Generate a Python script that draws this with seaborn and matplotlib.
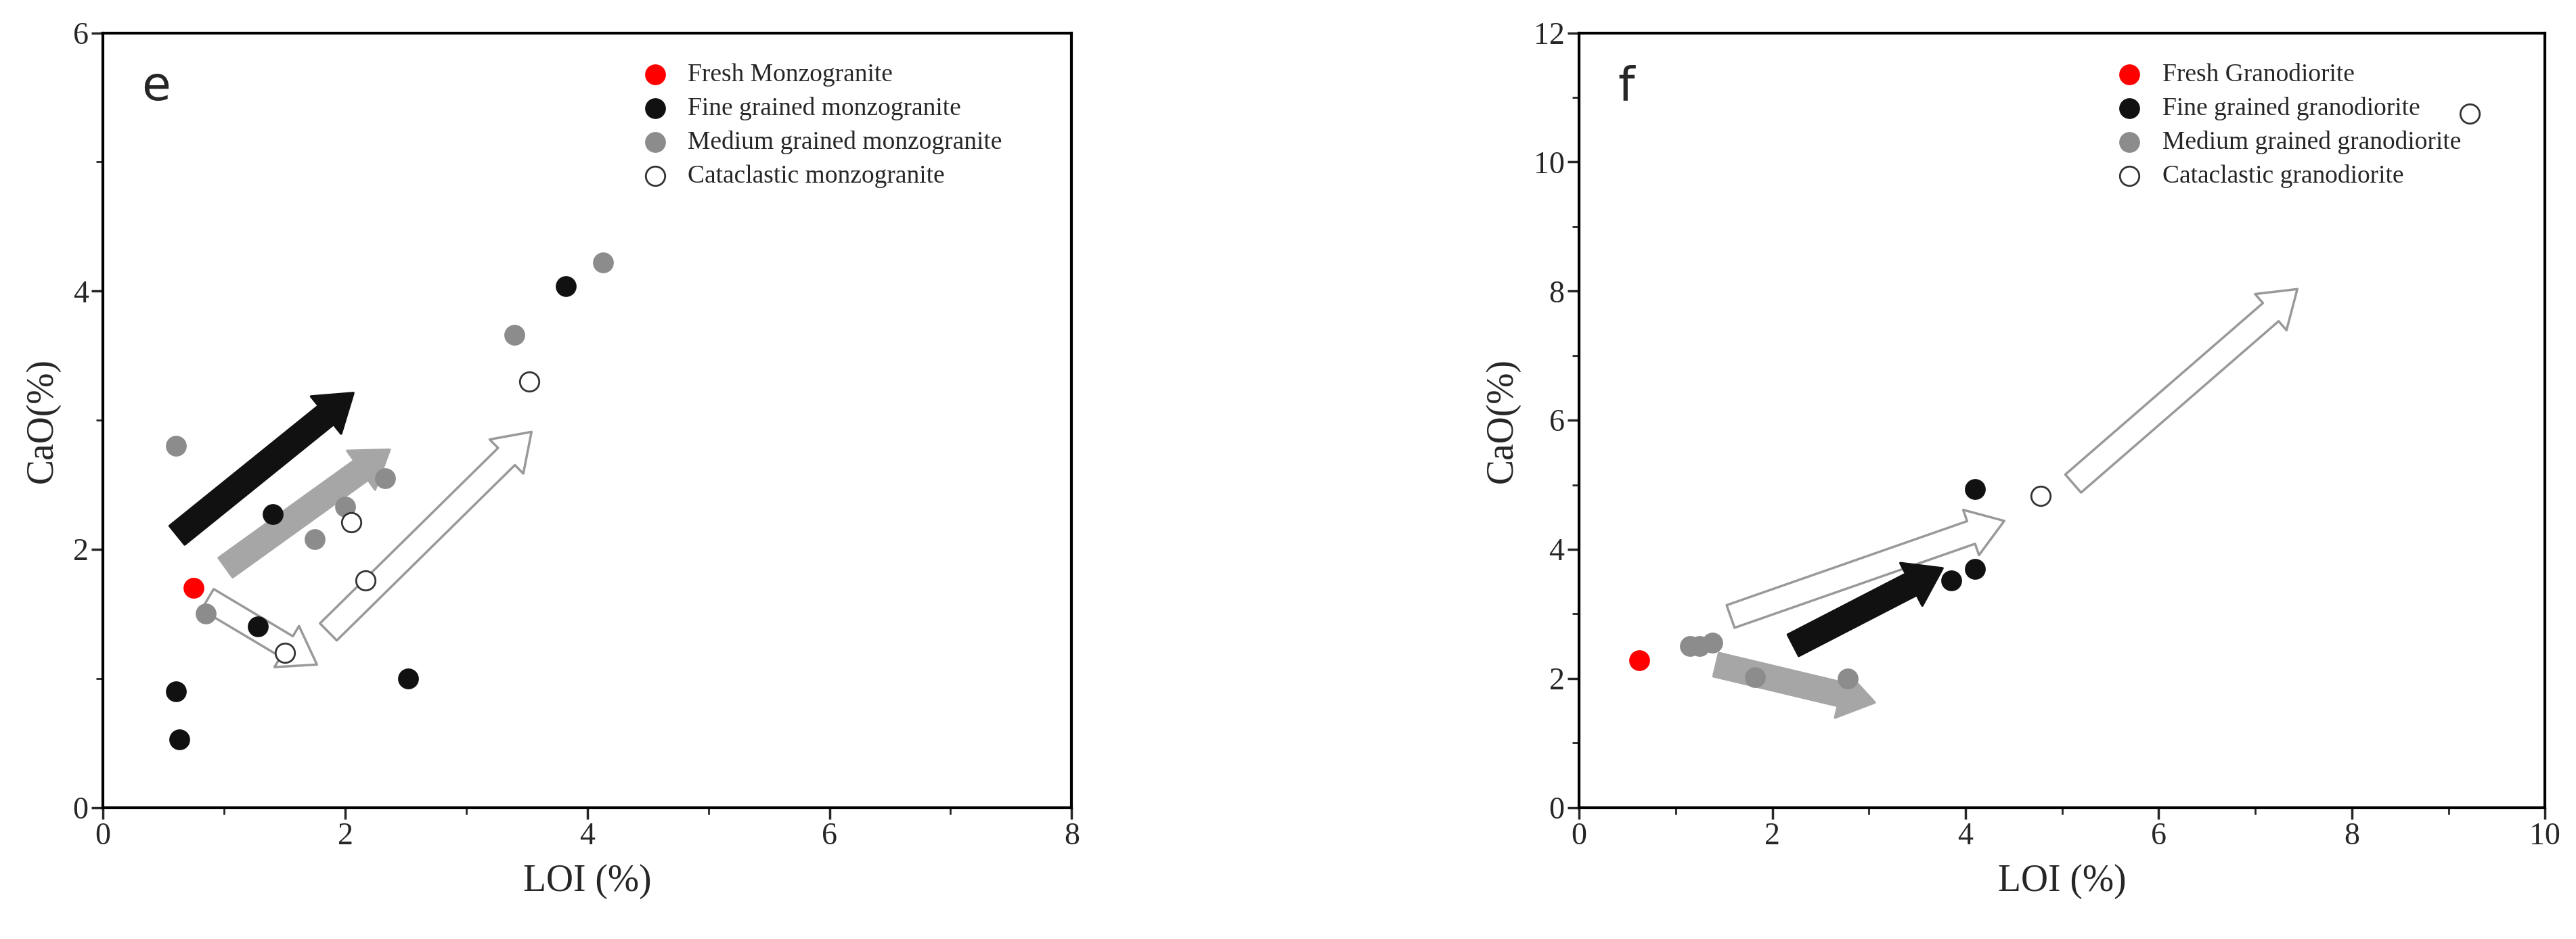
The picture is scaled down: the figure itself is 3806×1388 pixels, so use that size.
import matplotlib
matplotlib.use("Agg")
import matplotlib.pyplot as plt
import seaborn as sns
import pandas as pd
from matplotlib.patches import FancyArrowPatch
from matplotlib.ticker import MultipleLocator

sns.set_theme(style="ticks")
plt.rcParams['font.family'] = ['Liberation Serif', 'DejaVu Serif']

# Panel e data
e_fresh_x = [0.75]; e_fresh_y = [1.70]
e_fine_x = [0.60, 0.63, 1.28, 1.40, 2.52, 3.82]
e_fine_y = [0.90, 0.53, 1.40, 2.27, 1.00, 4.04]
e_med_x = [0.60, 0.85, 1.75, 2.00, 2.33, 3.40, 4.13]
e_med_y = [2.80, 1.50, 2.08, 2.33, 2.55, 3.66, 4.22]
e_cat_x = [1.50, 2.05, 2.17, 3.52]
e_cat_y = [1.20, 2.21, 1.76, 3.30]
e_labels = ["Fresh Monzogranite", "Fine grained monzogranite",
            "Medium grained monzogranite", "Cataclastic monzogranite"]

# Panel f data
f_fresh_x = [0.62]; f_fresh_y = [2.28]
f_fine_x = [3.85, 4.10, 4.10]
f_fine_y = [3.52, 3.70, 4.93]
f_med_x = [1.15, 1.25, 1.38, 1.82, 2.78]
f_med_y = [2.50, 2.50, 2.55, 2.02, 2.00]
f_cat_x = [4.78, 9.22]
f_cat_y = [4.83, 10.75]
f_labels = ["Fresh Granodiorite", "Fine grained granodiorite",
            "Medium grained granodiorite", "Cataclastic granodiorite"]

# arrows: (x0, y0, x1, y1, face)
e_arrows = [(0.60, 2.10, 2.08, 3.22, "#111111"),
            (1.00, 1.85, 2.38, 2.78, "#a6a6a6"),
            (0.85, 1.62, 1.78, 1.10, "white"),
            (1.85, 1.35, 3.55, 2.92, "white")]
f_arrows = [(1.55, 2.95, 4.42, 4.45, "white"),
            (5.10, 5.00, 7.45, 8.05, "white"),
            (2.20, 2.50, 3.78, 3.72, "#111111"),
            (1.40, 2.22, 3.08, 1.62, "#a6a6a6")]

fig = plt.figure(figsize=(38.06, 13.88), dpi=100)
axL = fig.add_axes([0.040, 0.140, 0.376, 0.825])
axR = fig.add_axes([0.613, 0.140, 0.375, 0.825])

def panel(ax, fresh, fine, med, cat, labels, arrows, xmax, ymax, xmaj, ymaj, letter):
    for x0, y0, x1, y1, fc in arrows:
        ec = fc if fc != "white" else "#999999"
        p = FancyArrowPatch((x0, y0), (x1, y1),
                            arrowstyle="simple,head_length=1.1,head_width=1.5,tail_width=0.75",
                            mutation_scale=34, fc=fc, ec=ec, lw=2.5, zorder=2)
        ax.add_patch(p)
    groups = [(fresh, dict(color="#ff0000", edgecolor="#ff0000"), labels[0]),
              (fine, dict(color="#111111", edgecolor="#111111"), labels[1]),
              (med, dict(color="#8c8c8c", edgecolor="#8c8c8c"), labels[2]),
              (cat, dict(facecolor="white", edgecolor="#333333", linewidth=2), labels[3])]
    for (xs, ys), kw, lab in groups:
        df = pd.DataFrame({"x": xs, "y": ys})
        sns.scatterplot(data=df, x="x", y="y", ax=ax, s=420, label=lab, zorder=3, **kw)
    ax.set_xlim(0, xmax); ax.set_ylim(0, ymax)
    ax.xaxis.set_major_locator(MultipleLocator(xmaj))
    ax.xaxis.set_minor_locator(MultipleLocator(xmaj / 2))
    ax.yaxis.set_major_locator(MultipleLocator(ymaj))
    ax.yaxis.set_minor_locator(MultipleLocator(ymaj / 2))
    ax.tick_params(which="major", length=12, width=2.5, labelsize=33, direction="out")
    ax.tick_params(which="minor", length=7, width=2, direction="out")
    for s in ax.spines.values():
        s.set_linewidth(3); s.set_color("black")
    ax.set_xlabel("LOI (%)", fontsize=40, labelpad=14)
    ax.set_ylabel("CaO(%)", fontsize=40, labelpad=14)
    ax.text(0.04, 0.93, letter, transform=ax.transAxes, fontsize=50,
            family=["DejaVu Sans"], va="center")
    ax.legend(loc="upper left", bbox_to_anchor=(0.52, 0.99), frameon=False,
              fontsize=27, handletextpad=0.3, labelspacing=0.4, markerscale=1.0)

panel(axL, (e_fresh_x, e_fresh_y), (e_fine_x, e_fine_y), (e_med_x, e_med_y),
      (e_cat_x, e_cat_y), e_labels, e_arrows, 8, 6, 2, 2, "e")
panel(axR, (f_fresh_x, f_fresh_y), (f_fine_x, f_fine_y), (f_med_x, f_med_y),
      (f_cat_x, f_cat_y), f_labels, f_arrows, 10, 12, 2, 2, "f")

fig.savefig("out.png", dpi=100)
